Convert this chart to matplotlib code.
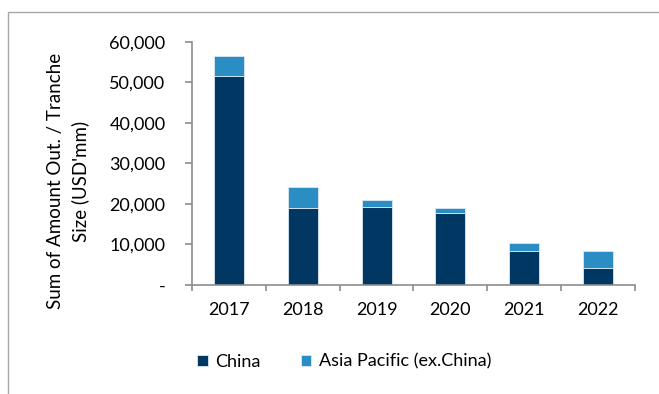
import numpy as np
import matplotlib.pyplot as plt
from matplotlib.patches import Rectangle

years = ['2017', '2018', '2019', '2020', '2021', '2022']
china = [51600, 19100, 19300, 17700, 8300, 4300]
apac_ex_china = [4900, 5000, 1600, 1200, 2100, 4000]
ylabel_lines = ["Sum of Amount Out. / Tranche", "Size (USD'mm)"]

dark = '#013763'
light = '#2a8dc3'
grey = '#8c8c8c'

plt.rcParams['font.family'] = ['Lato', 'DejaVu Sans']

fig = plt.figure(figsize=(6.59, 3.94), dpi=100)
ax = fig.add_axes([0.2913, 0.2766, 0.6723, 0.6174])

x = np.arange(len(years))
ax.bar(x, china, width=0.405, color=dark, edgecolor='#dbe8f2', linewidth=0.6, label='China')
ax.bar(x, apac_ex_china, width=0.405, bottom=china, color=light, edgecolor='#dbe8f2',
       linewidth=0.6, label='Asia Pacific (ex.China)')

ax.set_xlim(-0.5, len(years) - 0.5)
ax.set_ylim(0, 60000)
ax.set_yticks(np.arange(0, 60001, 10000))
ax.set_yticklabels(['-'] + [f'{v:,}' for v in range(10000, 60001, 10000)])
ax.set_xticks(x)
ax.set_xticklabels(years)
ax.set_xticks(np.arange(-0.5, len(years), 1.0), minor=True)
ax.tick_params(axis='x', which='major', length=0, pad=12, labelsize=13)
ax.tick_params(axis='x', which='minor', length=4, color=grey, width=1.2, direction='out')
ax.tick_params(axis='y', length=5, color=grey, width=1.2, direction='out', pad=14, labelsize=13)

for s in ['top', 'right']:
    ax.spines[s].set_visible(False)
for s in ['left', 'bottom']:
    ax.spines[s].set_color(grey)
    ax.spines[s].set_linewidth(1.2)

# two lines of the y label, each centred on the same point
for xpos, line in zip([56 / 659, 80 / 659], ylabel_lines):
    fig.text(xpos, 0.54, line, rotation=90, ha='center', va='center', fontsize=13.5)

ax.legend(loc='lower left', bbox_to_anchor=(0.275, 0.02), bbox_transform=fig.transFigure,
          ncol=2, frameon=False, fontsize=13, handlelength=0.6, handleheight=0.6,
          handletextpad=0.4, columnspacing=2.2)

fig.patches.append(Rectangle((8 / 659, -0.1), 1.2, 1.1 - 12 / 394,
                             transform=fig.transFigure, fill=False, edgecolor='#a6a6a6',
                             linewidth=1.0))

fig.savefig('out.png', dpi=100)
